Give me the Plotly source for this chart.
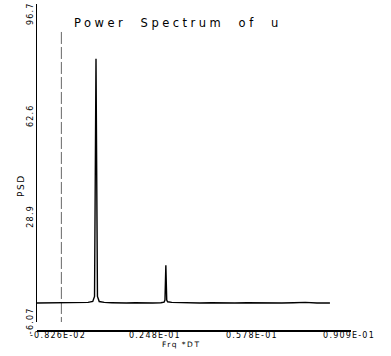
import plotly.graph_objects as go

# ---- data ----
freq = [-0.0154, -0.0125, -0.0095, -0.0065, -0.0035, -0.0005, 0.0020, 0.0036,
        0.0042, 0.0047, 0.0052, 0.0058, 0.0075, 0.0100, 0.0125, 0.0150, 0.0180,
        0.0210, 0.0240, 0.0268, 0.0279, 0.0282, 0.0285, 0.0288, 0.0291, 0.0305,
        0.0330, 0.0360, 0.0400, 0.0440, 0.0480, 0.0520, 0.0560, 0.0600, 0.0640,
        0.0680, 0.0720, 0.0760, 0.0800, 0.0844]
psd = [0.3, 0.3, 0.4, 0.3, 0.3, 0.4, 0.5, 0.8,
       2.5, 82.0, 2.5, 0.8, 0.5, 0.4, 0.3, 0.3, 0.4,
       0.3, 0.3, 0.4, 0.6, 1.3, 12.9, 1.3, 0.7, 0.5,
       0.4, 0.3, 0.3, 0.4, 0.3, 0.3, 0.4, 0.3, 0.3,
       0.3, 0.4, 0.5, 0.3, 0.3]

marker_freq = [-0.0071, -0.0071]
marker_psd = [91.0, -6.07]

x_tickvals = [-0.00826, 0.0248, 0.0578, 0.0909]
x_ticktext = ["-0.826E-02", "0.248E-01", "0.578E-01", "0.909E-01"]
y_tickvals = [-6.07, 28.9, 62.6, 96.7]
y_ticktext = ["-6.07", "28.9", "62.6", "96.7"]

title_text = "Power  Spectrum  of  u"
x_label = "Frq *DT"
y_label = "PSD"

FONT = "DejaVu Sans"

fig = go.Figure()
fig.add_trace(go.Scatter(
    x=marker_freq, y=marker_psd, mode="lines",
    line=dict(color="#666666", width=1, dash="12px,3px"),
    showlegend=False, hoverinfo="skip"))
fig.add_trace(go.Scatter(
    x=freq, y=psd, mode="lines",
    line=dict(color="black", width=1.4),
    showlegend=False))

def spaced(t, ls):
    return f'<span style="letter-spacing:{ls}px">{t}</span>'

fig.update_layout(
    width=391, height=356,
    margin=dict(l=37, r=40, t=2, b=25),
    paper_bgcolor="white", plot_bgcolor="white",
    font=dict(family=FONT, color="black", size=8),
    xaxis=dict(
        range=[-0.0154, 0.09158],
        anchor="free", position=0,
        showline=True, linecolor="black", linewidth=1.5,
        showgrid=False, zeroline=False, ticks="",
        tickvals=x_tickvals,
        ticktext=[spaced(t, 1.2) for t in x_ticktext],
        tickfont=dict(size=8, family=FONT),
        ticklabelstandoff=-3,
    ),
    yaxis=dict(
        range=[-6.07, 100.36],
        domain=[0.0274, 1],
        showline=True, linecolor="black", linewidth=1.2,
        showgrid=False, zeroline=False, ticks="",
        tickvals=y_tickvals,
        ticktext=[spaced(t, 1.2) for t in y_ticktext],
        tickangle=-90,
        tickfont=dict(size=8, family=FONT),
    ),
    annotations=[
        dict(text=spaced(title_text, 3.5), x=178, y=21,
             showarrow=False, font=dict(size=11.5, family=FONT)),
        dict(text=spaced(x_label, 1.5), x=181, y=345, showarrow=False,
             font=dict(size=7.5, family=FONT)),
        dict(text=spaced(y_label, 1.5), x=21, y=185, showarrow=False,
             textangle=-90, font=dict(size=9, family=FONT)),
    ],
)

# place annotations in pixel-derived paper coords
W, H = 391, 356
l, r, t, b = 37, 40, 2, 25
pw, ph = W - l - r, H - t - b
for ann in fig.layout.annotations:
    px, py = ann.x, ann.y
    ann.xref = "paper"
    ann.yref = "paper"
    ann.x = (px - l) / pw
    ann.y = (H - b - py) / ph
    ann.xanchor = "center"
    ann.yanchor = "middle"

fig.write_html("out.html",
               config={"displayModeBar": False},
               post_script="document.body.style.margin='0';document.body.style.overflow='hidden';")
